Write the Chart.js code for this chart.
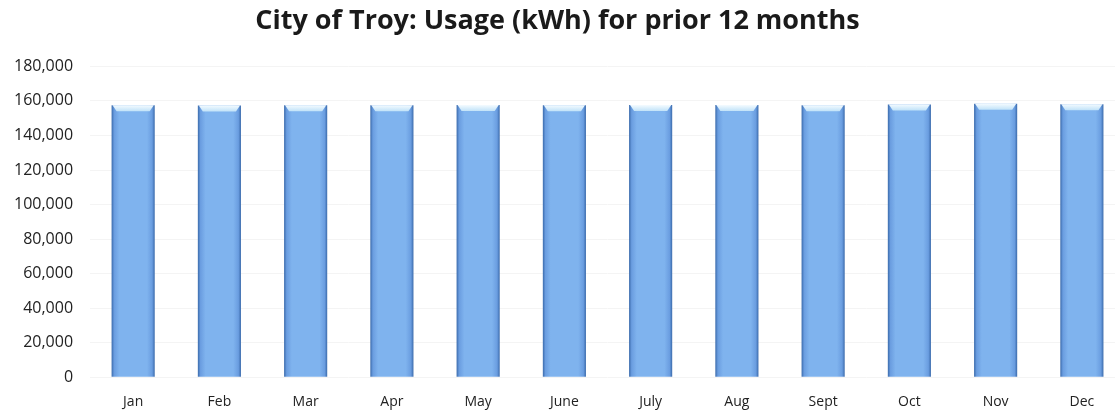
<!DOCTYPE html>
<html>
<head>
<meta charset="utf-8">
<script src="https://cdn.jsdelivr.net/npm/chart.js@4"></script>
<style>
  html, body { margin: 0; padding: 0; background: #fff; overflow: hidden; }
  #wrap { width: 1125px; height: 411px; }
</style>
</head>
<body>
<!-- the source chart runs ~10px past the right edge of the picture, so the canvas is a bit wider than the window -->
<div id="wrap"><canvas id="chart" width="1125" height="411"></canvas></div>
<script>
// values
const months = ['Jan', 'Feb', 'Mar', 'Apr', 'May', 'June', 'July', 'Aug', 'Sept', 'Oct', 'Nov', 'Dec'];
const usageKwh = [157500, 157400, 157500, 157500, 157600, 157500, 157600, 157600, 157500, 158000, 158400, 158100];
const yMax = 180000;
const yStep = 20000;

// horizontal shading + top bevel, roughly like the old Excel bar style
const bevelBars = {
  id: 'bevelBars',
  beforeDatasetsDraw(chart) {
    const ctx = chart.ctx;
    chart.getDatasetMeta(0).data.forEach(bar => {
      let half = bar.width / 2;
      let g = ctx.createLinearGradient(bar.x - half, 0, bar.x + half, 0);
      g.addColorStop(0, '#3a6aab');
      g.addColorStop(0.06, '#6a9de0');
      g.addColorStop(0.18, '#7fb3ee');
      g.addColorStop(0.82, '#7fb3ee');
      g.addColorStop(0.94, '#6a9de0');
      g.addColorStop(1, '#3a6aab');
      bar.options.backgroundColor = g;
    });
  },
  afterDatasetsDraw(chart) {
    const ctx = chart.ctx;
    chart.getDatasetMeta(0).data.forEach(bar => {
      let half = bar.width / 2;
      let l = bar.x - half, r = bar.x + half, t = bar.y;
      let g = ctx.createLinearGradient(0, t, 0, t + 7);
      g.addColorStop(0, '#f4fbff');
      g.addColorStop(1, '#b8def7');
      ctx.save();
      ctx.fillStyle = g;
      ctx.beginPath();
      ctx.moveTo(l + 1, t);
      ctx.lineTo(r - 1, t);
      ctx.lineTo(r - 5, t + 6);
      ctx.lineTo(l + 5, t + 6);
      ctx.closePath();
      ctx.fill();
      ctx.restore();
    });
  }
};

new Chart(document.getElementById('chart'), {
  type: 'bar',
  data: {
    labels: months,
    datasets: [{
      label: 'Usage (kWh)',
      data: usageKwh,
      // scriptable so every bar gets its own options object
      backgroundColor: c => '#7fb3ee',
      borderWidth: 0,
      barPercentage: 0.5,
      categoryPercentage: 1.0
    }]
  },
  options: {
    responsive: false,
    animation: false,
    // left -10 recentres the title on the visible 1115px
    layout: { padding: { left: -10, right: 0, top: 0, bottom: -7 } },
    plugins: {
      legend: { display: false },
      tooltip: { enabled: false },
      title: {
        display: true,
        text: 'City of Troy: Usage (kWh) for prior 12 months',
        color: '#1a1a1a',
        font: { family: 'Open Sans', size: 27, weight: 'bold' },
        padding: { top: 5, bottom: 29 }
      }
    },
    scales: {
      x: {
        grid: { display: false },
        border: { display: false },
        ticks: {
          color: '#222',
          font: { family: 'Open Sans', size: 14 },
          padding: 8
        }
      },
      y: {
        min: 0,
        max: yMax,
        afterFit: s => { s.width += 7; },
        ticks: {
          stepSize: yStep,
          color: '#222',
          font: { family: 'Open Sans', size: 16 },
          padding: 17,
          callback: v => v.toLocaleString('en-US')
        },
        grid: { color: '#f4f4f4', drawTicks: false },
        border: { display: false }
      }
    }
  },
  plugins: [bevelBars]
});
</script>
</body>
</html>
